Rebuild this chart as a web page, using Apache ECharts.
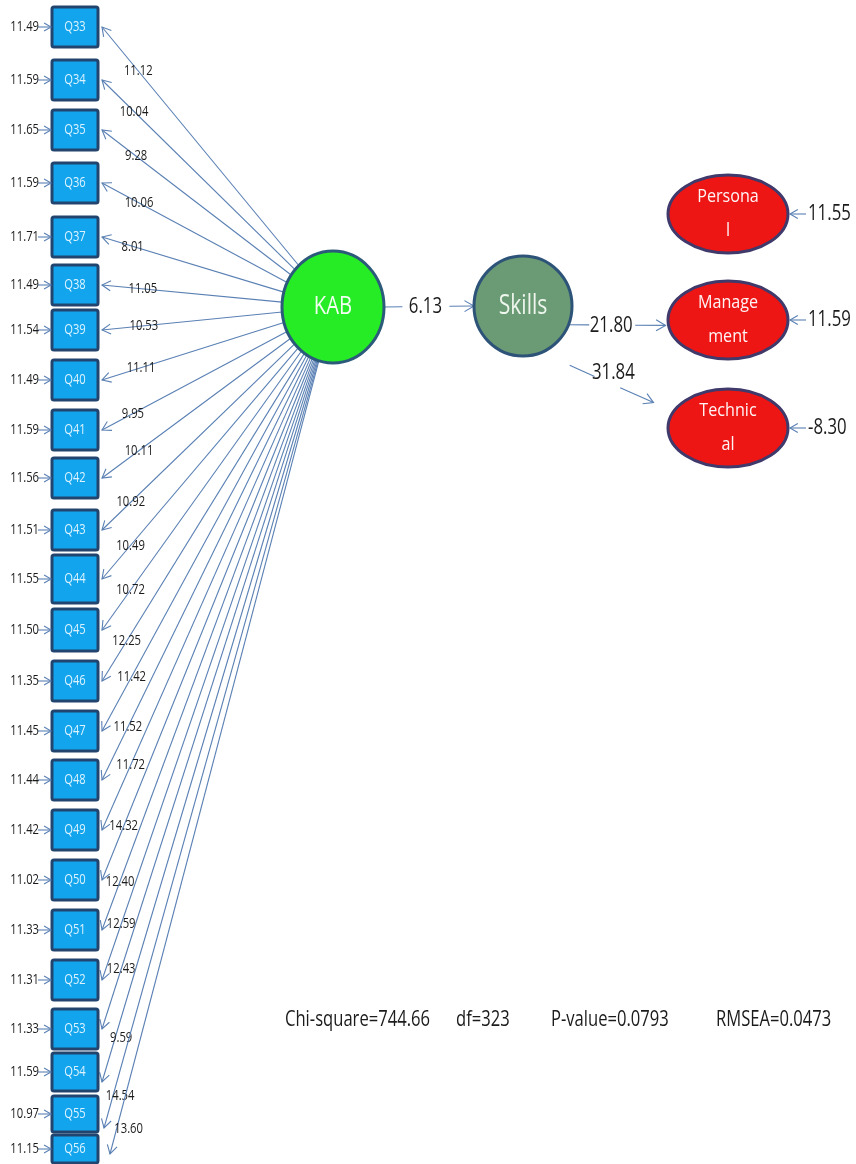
<!DOCTYPE html>
<html><head><meta charset="utf-8">
<script src="https://cdn.jsdelivr.net/npm/echarts@6/dist/echarts.min.js"></script>
<style>html,body{margin:0;padding:0;background:#fff}#c{width:856px;height:1164px}</style>
</head><body><div id="c"></div>
<script>
// ---------------- data ----------------
const indicators = ['Q33','Q34','Q35','Q36','Q37','Q38','Q39','Q40','Q41','Q42','Q43','Q44',
  'Q45','Q46','Q47','Q48','Q49','Q50','Q51','Q52','Q53','Q54','Q55','Q56'];
const loadings = [11.12,10.04,9.28,10.06,8.01,11.05,10.53,11.11,9.95,10.11,10.92,10.49,
  10.72,12.25,11.42,11.52,11.72,14.32,12.40,12.59,12.43,9.59,14.54,13.60];
const errorVars = [11.49,11.59,11.65,11.59,11.71,11.49,11.54,11.49,11.59,11.56,11.51,11.55,
  11.50,11.35,11.45,11.44,11.42,11.02,11.33,11.31,11.33,11.59,10.97,11.15];
const latentNames = ['KAB','Skills'];
const structuralPaths = [6.13, 21.80, 31.84];   // KAB->Skills, Skills->Management, Skills->Technical
const outcomeNames = ['Persona\nl','Manage\nment','Technic\nal'];
const outcomeErrors = [11.55, 11.59, -8.30];
const fitLabels = ['Chi-square','df','P-value','RMSEA'];
const fitValues = ['744.66','323','0.0793','0.0473'];

// ---------------- layout (diagram units = px) ----------------
const boxX = 75, boxW = 46;
const boxY = [27,80,130,183,237,285,330,380,430,478,530,579,630,681,731,780,830,880,930,980,1029,1072,1114,1149];
const boxH = [40,40,40,40,40,40,40,40,40,40,40,48,42,40,40,40,40,40,40,40,40,38,36,28];
const tipDx = [4,4,4,4,4,4,4,4,4,4,4,4,4,4,4,4,4,4,4,4,4,4,6,12];
const tipDy = [0,0,0,0,0,0,0,0,0,0,0,0,0,0,0,0,0,0,0,0,0,10,14,5];
const labelDist = [57,45,43,42,32,41,42,41,35,46,40,44,49,47,62,59,71,58,52,59,63,46,34,26];
const labelShift = [0,0,0,0,0,0,0,0,0,0,0,0,0,0,0,0,0,0,0,0,0,6,7,12];
const latentShapes = [
  {x:333, y:307, rx:51, ry:56, fill:'#25ec25', stroke:'#2b5a7a', font:26, color:'#f2fff2'},
  {x:523, y:306, rx:49, ry:50, fill:'#6b9b74', stroke:'#2d5378', font:27, color:'#eef6ee'}
];
const outcomeX = 728, outcomeY = [214, 320, 428], outRx = 60, outRy = 39;
const connectors = [
  {from:'L0', fromAng:0,  startOff:[0,0],   to:'L1', toAng:180, t:0.46, gap:[23,24], off:[0,0],  pad:0},
  {from:'L1', fromAng:22, startOff:[0,0],   to:'O1', toAng:172, t:0.44, gap:[22,24], off:[0,1],  pad:3},
  {from:'L1', fromAng:45, startOff:[12,24], to:'O2', toAng:205, t:0.45, gap:[14,14], off:[6,-9], pad:22}
];
const fitX = [285, 456, 551, 716], fitY = 1020;

const FONT = "'Open Sans','Noto Sans','Liberation Sans',sans-serif";
const INK = '#1b1b1b', LINE = '#5a80b4';

function shapeOf(key){
  if (key[0] === 'L') return latentShapes[+key.slice(1)];
  const i = +key.slice(1);
  return {x:outcomeX, y:outcomeY[i], rx:outRx, ry:outRy};
}
function unit(ax, ay, bx, by){ const dx = bx-ax, dy = by-ay, l = Math.hypot(dx, dy); return [dx/l, dy/l]; }
function ellipseToward(e, tx, ty){
  const dx = tx-e.x, dy = ty-e.y;
  const t = 1/Math.sqrt((dx/e.rx)**2 + (dy/e.ry)**2);
  return [e.x+dx*t, e.y+dy*t];
}
function ellipseAt(e, deg){ const a = deg*Math.PI/180; return [e.x+e.rx*Math.cos(a), e.y+e.ry*Math.sin(a)]; }
function seg(api, p, q){
  const a = api.coord(p), b = api.coord(q);
  return {type:'line', shape:{x1:a[0], y1:a[1], x2:b[0], y2:b[1]}, style:{stroke:LINE, lineWidth:1.1}};
}
function head(api, tip, u, L){
  const a = Math.PI/6, bx = -u[0], by = -u[1];
  const c = Math.cos(a), s = Math.sin(a);
  const p1 = [tip[0]+L*(bx*c - by*s), tip[1]+L*(bx*s + by*c)];
  const p2 = [tip[0]+L*(bx*c + by*s), tip[1]+L*(-bx*s + by*c)];
  return {type:'polyline', shape:{points:[api.coord(p1), api.coord(tip), api.coord(p2)]},
          style:{stroke:LINE, fill:null, lineWidth:1.1}};
}
function txt(api, p, text, size, sx, opt){
  const c = api.coord(p);
  return {type:'text', x:c[0], y:c[1], scaleX:sx, style:Object.assign({text:text, fill:INK,
    font: size+'px '+FONT, align:'center', verticalAlign:'middle'}, opt||{})};
}

const chart = echarts.init(document.getElementById('c'));
const option = {
  animation:false,
  grid:{left:0, right:0, top:0, bottom:0},
  xAxis:{type:'value', min:0, max:856, show:false},
  yAxis:{type:'value', min:0, max:1164, inverse:true, show:false},
  series:[
    { // loading paths KAB -> indicators
      type:'custom', clip:false, data: loadings.map((v,i)=>[i, v]),
      renderItem(params, api){
        const i = params.dataIndex;
        const tip = [boxX+boxW/2+tipDx[i], boxY[i]+tipDy[i]];
        const st = ellipseToward(latentShapes[0], tip[0], tip[1]);
        const u = unit(st[0], st[1], tip[0], tip[1]);
        const lp = [tip[0]-u[0]*labelDist[i]+labelShift[i], tip[1]-u[1]*labelDist[i]];
        return {type:'group', children:[seg(api, st, tip), head(api, tip, u, 10),
          txt(api, lp, api.value(1).toFixed(2), 15, 0.75)]};
      }
    },
    { // indicator boxes + error arrows
      type:'custom', clip:false, data: errorVars.map((v,i)=>[i, v]),
      renderItem(params, api){
        const i = params.dataIndex, cy = boxY[i], h = boxH[i];
        const tl = api.coord([boxX-boxW/2, cy-h/2]);
        return {type:'group', children:[
          {type:'rect', shape:{x:tl[0], y:tl[1], width:boxW, height:h, r:2},
           style:{fill:'#12a4ec', stroke:'#22456f', lineWidth:3}},
          txt(api, [boxX, cy], indicators[i], 14, 0.8, {fill:'#dcf3ff'}),
          seg(api, [38, cy], [51, cy]),
          head(api, [51, cy], [1, 0], 8),
          txt(api, [39, cy], api.value(1).toFixed(2), 15, 0.75, {align:'right'})
        ]};
      }
    },
    { // structural connectors
      type:'custom', clip:false, data: structuralPaths.map((v,i)=>[i, v]),
      renderItem(params, api){
        const c = connectors[params.dataIndex];
        const s0 = ellipseAt(shapeOf(c.from), c.fromAng);
        const s = [s0[0]+c.startOff[0], s0[1]+c.startOff[1]];
        let e = ellipseAt(shapeOf(c.to), c.toAng);
        const u = unit(s[0], s[1], e[0], e[1]);
        e = [e[0]-u[0]*c.pad, e[1]-u[1]*c.pad];
        const L = Math.hypot(e[0]-s[0], e[1]-s[1]);
        const m = [s[0]+u[0]*L*c.t, s[1]+u[1]*L*c.t];
        const a = [m[0]-u[0]*c.gap[0], m[1]-u[1]*c.gap[0]];
        const b = [m[0]+u[0]*c.gap[1], m[1]+u[1]*c.gap[1]];
        return {type:'group', children:[seg(api, s, a), seg(api, b, e), head(api, e, u, 11),
          txt(api, [m[0]+c.off[0], m[1]+c.off[1]], api.value(1).toFixed(2), 21, 0.8)]};
      }
    },
    { // latent variables
      type:'custom', clip:false, data: latentNames.map((n,i)=>[i, 0]),
      renderItem(params, api){
        const e = latentShapes[params.dataIndex], c = api.coord([e.x, e.y]);
        return {type:'group', children:[
          {type:'ellipse', shape:{cx:c[0], cy:c[1], rx:e.rx, ry:e.ry},
           style:{fill:e.fill, stroke:e.stroke, lineWidth:3}},
          txt(api, [e.x, e.y], latentNames[params.dataIndex], e.font, 0.78, {fill:e.color})
        ]};
      }
    },
    { // outcome variables + error arrows
      type:'custom', clip:false, data: outcomeErrors.map((v,i)=>[i, v]),
      renderItem(params, api){
        const i = params.dataIndex, y = outcomeY[i], c = api.coord([outcomeX, y]);
        const tip = [outcomeX+outRx+2, y];
        return {type:'group', children:[
          {type:'ellipse', shape:{cx:c[0], cy:c[1], rx:outRx, ry:outRy},
           style:{fill:'#ee1515', stroke:'#3f3a6b', lineWidth:3}},
          txt(api, [outcomeX, y], outcomeNames[i], 19, 0.85, {fill:'#fff4f4', lineHeight:34}),
          seg(api, [tip[0]+16, y], tip),
          head(api, tip, [-1, 0], 9),
          txt(api, [tip[0]+18, y], api.value(1).toFixed(2), 21, 0.8, {align:'left'})
        ]};
      }
    },
    { // fit statistics
      type:'custom', clip:false, data: fitLabels.map((n,i)=>[i, 0]),
      renderItem(params, api){
        const i = params.dataIndex;
        return txt(api, [fitX[i], fitY], fitLabels[i]+'='+fitValues[i], 21, 0.79, {align:'left'});
      }
    }
  ]
};
chart.setOption(option);
</script>
</body></html>
